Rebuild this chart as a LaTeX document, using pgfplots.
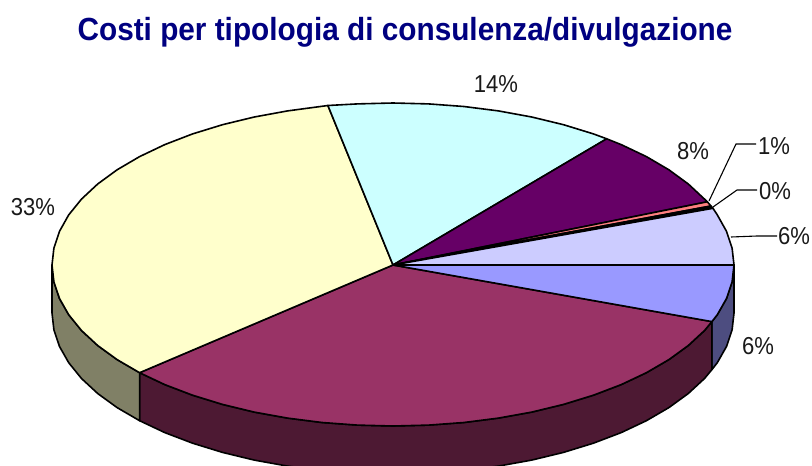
\documentclass[border=0pt]{standalone}
\usepackage{pgfplots}
\pgfplotsset{compat=1.18}
\usepackage{fontspec}
\setmainfont{Liberation Sans}
\newfontfamily\labfont[FakeStretch=0.9]{Liberation Sans}
\newfontfamily\titlefont[FakeStretch=0.93,BoldFont={Liberation Sans Bold}]{Liberation Sans}
\definecolor{cBlue}{HTML}{9999FF}
\definecolor{cLilac}{HTML}{CCCCFF}
\definecolor{cPink}{HTML}{FF8080}
\definecolor{cPurple}{HTML}{660066}
\definecolor{cCyan}{HTML}{CCFFFF}
\definecolor{cYellow}{HTML}{FFFFCC}
\definecolor{cMaroon}{HTML}{993366}
\definecolor{dBlue}{HTML}{4D4D80}
\definecolor{dMaroon}{HTML}{4D1933}
\definecolor{dOlive}{HTML}{808066}
\definecolor{cTitle}{HTML}{000080}
\begin{document}
\begin{tikzpicture}[x=1pt,y=1pt]
\path[use as bounding box] (0,0) rectangle (812pt,466pt);
\begin{axis}[at={(0,0)},anchor=south west,scale only axis,width=812pt,height=466pt,
  xmin=0,xmax=812,ymin=0,ymax=466,y dir=reverse,hide axis,clip=true]
\pgfplotsset{wedge/.style={draw=black,line width=1.6pt,line join=round}}
% side walls
\addplot[wedge,fill=dBlue] coordinates {(734,265)(732.1,281.8)(726.5,298.5)(717.3,314.7)(711.9,321.6)(711.9,369.6)(717.3,362.7)(726.5,346.5)(732.1,329.8)(734,313)} -- cycle;
\addplot[wedge,fill=dMaroon] coordinates {(711.9,321.6)(704.5,330.5)(688.3,345.5)(668.9,359.6)(646.4,372.7)(621.2,384.6)(593.4,395.2)(563.5,404.4)(531.7,412.1)(498.4,418.1)(463.9,422.5)(428.6,425.1)(393,426)(357.4,425.1)(322.1,422.5)(287.6,418.1)(254.3,412.1)(222.5,404.4)(192.6,395.2)(164.8,384.6)(139.6,372.7)(139.6,420.7)(164.8,432.6)(192.6,443.2)(222.5,452.4)(254.3,460.1)(287.6,466.1)(322.1,470.5)(357.4,473.1)(393,474)(428.6,473.1)(463.9,470.5)(498.4,466.1)(531.7,460.1)(563.5,452.4)(593.4,443.2)(621.2,432.6)(646.4,420.7)(668.9,407.6)(688.3,393.5)(704.5,378.5)(711.9,369.6)} -- cycle;
\addplot[wedge,fill=dOlive] coordinates {(139.6,372.7)(117.1,359.6)(97.7,345.5)(81.5,330.5)(68.7,314.7)(59.5,298.5)(53.9,281.8)(52,265)(52,313)(53.9,329.8)(59.5,346.5)(68.7,362.7)(81.5,378.5)(97.7,393.5)(117.1,407.6)(139.6,420.7)} -- cycle;
% top wedges
\addplot[wedge,fill=cMaroon] coordinates {(393,265)(711.9,321.6)(704.5,330.5)(688.3,345.5)(668.9,359.6)(646.4,372.7)(621.2,384.6)(593.4,395.2)(563.5,404.4)(531.7,412.1)(498.4,418.1)(463.9,422.5)(428.6,425.1)(393,426)(357.4,425.1)(322.1,422.5)(287.6,418.1)(254.3,412.1)(222.5,404.4)(192.6,395.2)(164.8,384.6)(139.6,372.7)} -- cycle;
\addplot[wedge,fill=cYellow] coordinates {(393,265)(139.6,372.7)(117.1,359.6)(97.7,345.5)(81.5,330.5)(68.7,314.7)(59.5,298.5)(53.9,281.8)(52,265)(53.9,248.1)(59.5,231.3)(68.7,214.9)(81.5,199.1)(97.7,184)(117.1,169.8)(139.6,156.6)(164.8,144.6)(192.6,133.9)(222.5,124.7)(254.3,117)(287.6,110.9)(327.9,105.5)} -- cycle;
\addplot[wedge,fill=cCyan] coordinates {(393,265)(327.9,105.5)(357.4,103.9)(393,103)(428.6,103.9)(463.9,106.5)(498.4,110.9)(531.7,117)(563.5,124.7)(593.4,133.9)(606.7,138.8)} -- cycle;
\addplot[wedge,fill=cPurple] coordinates {(393,265)(606.7,138.8)(621.2,144.6)(646.4,156.6)(668.9,169.8)(688.3,184)(704.5,199.1)(707.3,201.8)} -- cycle;
\addplot[wedge,fill=cPink] coordinates {(393,265)(707.3,201.8)(711,206)} -- cycle;
\addplot[wedge,fill=black] coordinates {(393,265)(711,206)(713,208.3)} -- cycle;
\addplot[wedge,fill=cLilac] coordinates {(393,265)(713,208.3)(717.3,214.9)(726.5,231.3)(732.1,248.1)(734,265)} -- cycle;
\addplot[wedge,fill=cBlue] coordinates {(393,265)(734,265)(732.1,281.8)(726.5,298.5)(717.3,314.7)(711.9,321.6)} -- cycle;
% leader lines
\addplot[draw=black,line width=1.1pt] coordinates {(709,201)(736,144)(756,144)};
\addplot[draw=black,line width=1.1pt] coordinates {(713,207)(737,190)(757,190)};
\addplot[draw=black,line width=1.1pt] coordinates {(731,237)(757,236)(777,236)};
% labels
\node[font=\titlefont\fontsize{32}{36}\selectfont\bfseries,text=cTitle] at (axis cs:405,32) {Costi per tipologia di consulenza/divulgazione};
\node[font=\labfont\fontsize{24.5}{28}\selectfont,text=black!90] at (axis cs:496,84) {14\%};
\node[font=\labfont\fontsize{24.5}{28}\selectfont,text=black!90] at (axis cs:693,151) {8\%};
\node[font=\labfont\fontsize{24.5}{28}\selectfont,text=black!90] at (axis cs:774,146) {1\%};
\node[font=\labfont\fontsize{24.5}{28}\selectfont,text=black!90] at (axis cs:775,191) {0\%};
\node[font=\labfont\fontsize{24.5}{28}\selectfont,text=black!90] at (axis cs:794,236) {6\%};
\node[font=\labfont\fontsize{24.5}{28}\selectfont,text=black!90] at (axis cs:758,346) {6\%};
\node[font=\labfont\fontsize{24.5}{28}\selectfont,text=black!90] at (axis cs:33,207) {33\%};
\end{axis}
\end{tikzpicture}
\end{document}
